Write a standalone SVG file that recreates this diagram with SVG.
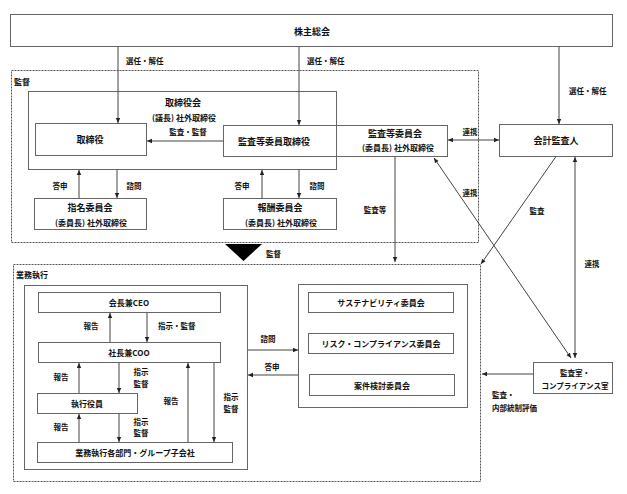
<svg xmlns="http://www.w3.org/2000/svg" width="627" height="494" viewBox="0 0 627 494">
<style>
.box{fill:#fff;stroke:#666;stroke-width:1}
.dash{fill:none;stroke:#555;stroke-width:1;stroke-dasharray:2,1}
.ln{fill:none;stroke:#444;stroke-width:1}
text{font-family:"Noto Sans CJK JP","Noto Sans",sans-serif;font-weight:bold;fill:#111;dominant-baseline:central}
.t9{font-size:9px;text-anchor:middle}
.t8{font-size:8px;text-anchor:middle}
.lb{font-size:7.5px}
.lbc{font-size:7.5px;text-anchor:middle}
</style>
<defs>
<marker id="ah" markerUnits="userSpaceOnUse" markerWidth="6" markerHeight="6" refX="5" refY="3" orient="auto-start-reverse">
<path d="M0,0.8 L5,3 L0,5.2 Z" fill="#222"/>
</marker>
</defs>
<rect width="627" height="494" fill="#fff"/>

<g id="regions">
<rect class="dash" x="11.5" y="70.5" width="467" height="172"/>
<text class="lb" x="14" y="81" style="font-size:8px">監督</text>
<rect class="dash" x="13.5" y="264.5" width="467" height="217"/>
<text class="lb" x="16" y="274" style="font-size:8px">業務執行</text>
<polygon points="225,244 262,244 243.5,261" fill="#000"/>
<text class="lb" x="266" y="253">監督</text>
</g>

<g id="shareholders">
<rect class="box" x="10.5" y="14.5" width="602" height="32"/>
<text class="t9" x="312" y="31">株主総会</text>
</g>

<g id="board">
<rect class="box" x="28.5" y="91.5" width="308" height="78"/>
<text class="t9" x="183" y="102">取締役会</text>
<text class="t8" x="184" y="117">(議長) 社外取締役</text>
</g>

<g id="audit-committee">
<rect class="box" x="223.5" y="125.5" width="224" height="31"/>
<line x1="336.5" y1="125.5" x2="336.5" y2="156.5" stroke="#666"/>
<text class="t9" x="274" y="141">監査等委員取締役</text>
<text class="t9" x="395" y="133">監査等委員会</text>
<text class="t8" x="398" y="147">(委員長) 社外取締役</text>
</g>

<g id="directors">
<rect class="box" x="35.5" y="123.5" width="111" height="32"/>
<text class="t9" x="90" y="139">取締役</text>
</g>

<g id="accounting-auditor">
<rect class="box" x="499.5" y="124.5" width="113" height="32"/>
<text class="t9" x="556" y="140">会計監査人</text>
</g>

<g id="nomination">
<rect class="box" x="34.5" y="198.5" width="112" height="31"/>
<text class="t9" x="90" y="207">指名委員会</text>
<text class="t8" x="91" y="222">(委員長) 社外取締役</text>
</g>

<g id="remuneration">
<rect class="box" x="223.5" y="198.5" width="113" height="31"/>
<text class="t9" x="280" y="207">報酬委員会</text>
<text class="t8" x="281" y="222">(委員長) 社外取締役</text>
</g>

<g id="exec-panel">
<rect class="box" x="24.5" y="285.5" width="223" height="184"/>
</g>
<g id="ceo">
<rect class="box" x="38.5" y="292.5" width="182" height="20"/>
<text class="t8" x="129" y="302">会長兼CEO</text>
</g>
<g id="coo">
<rect class="box" x="38.5" y="342.5" width="182" height="20"/>
<text class="t8" x="129" y="352">社長兼COO</text>
</g>
<g id="officers">
<rect class="box" x="37.5" y="393.5" width="100" height="20"/>
<text class="t8" x="87" y="403">執行役員</text>
</g>
<g id="departments">
<rect class="box" x="37.5" y="442.5" width="195" height="20"/>
<text class="t8" x="135" y="452">業務執行各部門・グループ子会社</text>
</g>

<g id="committees-panel">
<rect class="box" x="298.5" y="284.5" width="169" height="123"/>
</g>
<g id="sustainability">
<rect class="box" x="308.5" y="292.5" width="145" height="20"/>
<text class="t8" x="381" y="302">サステナビリティ委員会</text>
</g>
<g id="risk-compliance">
<rect class="box" x="308.5" y="333.5" width="145" height="20"/>
<text class="t8" x="381" y="343">リスク・コンプライアンス委員会</text>
</g>
<g id="project-review">
<rect class="box" x="309.5" y="374.5" width="145" height="21"/>
<text class="t8" x="382" y="385">案件検討委員会</text>
</g>

<g id="internal-audit">
<rect class="box" x="533.5" y="362.5" width="79" height="31"/>
<text class="lbc" x="575" y="372">監査室・</text>
<text class="lbc" x="575" y="385">コンプライアンス室</text>
</g>

<g id="connectors">
<line class="ln" x1="118" y1="46.5" x2="118" y2="123" marker-end="url(#ah)"/>
<line class="ln" x1="299" y1="46.5" x2="299" y2="125" marker-end="url(#ah)"/>
<line class="ln" x1="559" y1="46.5" x2="559" y2="124" marker-end="url(#ah)"/>
<line class="ln" x1="223" y1="141" x2="147" y2="141" marker-end="url(#ah)"/>
<line class="ln" x1="448" y1="140" x2="499" y2="140" marker-start="url(#ah)" marker-end="url(#ah)"/>
<line class="ln" x1="79" y1="198" x2="79" y2="170" marker-end="url(#ah)"/>
<line class="ln" x1="117" y1="170" x2="117" y2="198" marker-end="url(#ah)"/>
<line class="ln" x1="262" y1="198" x2="262" y2="170" marker-end="url(#ah)"/>
<line class="ln" x1="299" y1="170" x2="299" y2="198" marker-end="url(#ah)"/>
<line class="ln" x1="395" y1="157" x2="395" y2="262" marker-end="url(#ah)"/>
<line class="ln" x1="434" y1="158" x2="571" y2="358" marker-start="url(#ah)" marker-end="url(#ah)"/>
<line class="ln" x1="556" y1="156.5" x2="481" y2="264" marker-end="url(#ah)"/>
<line class="ln" x1="575" y1="157" x2="575" y2="358" marker-start="url(#ah)" marker-end="url(#ah)"/>
<line class="ln" x1="533" y1="374" x2="482" y2="374" marker-end="url(#ah)"/>
<line class="ln" x1="110" y1="342" x2="110" y2="313" marker-end="url(#ah)"/>
<line class="ln" x1="147" y1="313" x2="147" y2="342" marker-end="url(#ah)"/>
<line class="ln" x1="79" y1="393" x2="79" y2="363" marker-end="url(#ah)"/>
<line class="ln" x1="119" y1="363" x2="119" y2="393" marker-end="url(#ah)"/>
<line class="ln" x1="79" y1="442" x2="79" y2="414" marker-end="url(#ah)"/>
<line class="ln" x1="119" y1="414" x2="119" y2="442" marker-end="url(#ah)"/>
<line class="ln" x1="188" y1="442" x2="188" y2="363" marker-end="url(#ah)"/>
<line class="ln" x1="214" y1="363" x2="214" y2="442" marker-end="url(#ah)"/>
<line class="ln" x1="248" y1="350" x2="298" y2="350" marker-end="url(#ah)"/>
<line class="ln" x1="298" y1="375" x2="248" y2="375" marker-end="url(#ah)"/>

<text class="lb" x="126" y="60">選任・解任</text>
<text class="lb" x="307" y="60">選任・解任</text>
<text class="lb" x="569" y="90">選任・解任</text>
<text class="lbc" x="188" y="131">監査・監督</text>
<text class="lbc" x="470" y="131">連携</text>
<text class="lbc" x="60" y="185">答申</text>
<text class="lbc" x="134" y="185">諮問</text>
<text class="lbc" x="242" y="185">答申</text>
<text class="lbc" x="317" y="185">諮問</text>
<text class="lbc" x="375" y="209">監査等</text>
<text class="lbc" x="470" y="192">連携</text>
<text class="lbc" x="537" y="210">監査</text>
<text class="lbc" x="592" y="263">連携</text>
<text class="lb" x="492" y="394">監査・</text>
<text class="lb" x="492" y="407">内部統制評価</text>
<text class="lbc" x="91" y="325">報告</text>
<text class="lb" x="158" y="325">指示・監督</text>
<text class="lbc" x="61" y="376">報告</text>
<text class="lbc" x="141" y="371">指示</text>
<text class="lbc" x="141" y="383">監督</text>
<text class="lbc" x="61" y="426">報告</text>
<text class="lbc" x="141" y="421">指示</text>
<text class="lbc" x="141" y="432">監督</text>
<text class="lbc" x="171" y="400">報告</text>
<text class="lbc" x="231" y="396">指示</text>
<text class="lbc" x="231" y="408">監督</text>
<text class="lbc" x="268" y="338">諮問</text>
<text class="lbc" x="272" y="366">答申</text>
</g>
</svg>
